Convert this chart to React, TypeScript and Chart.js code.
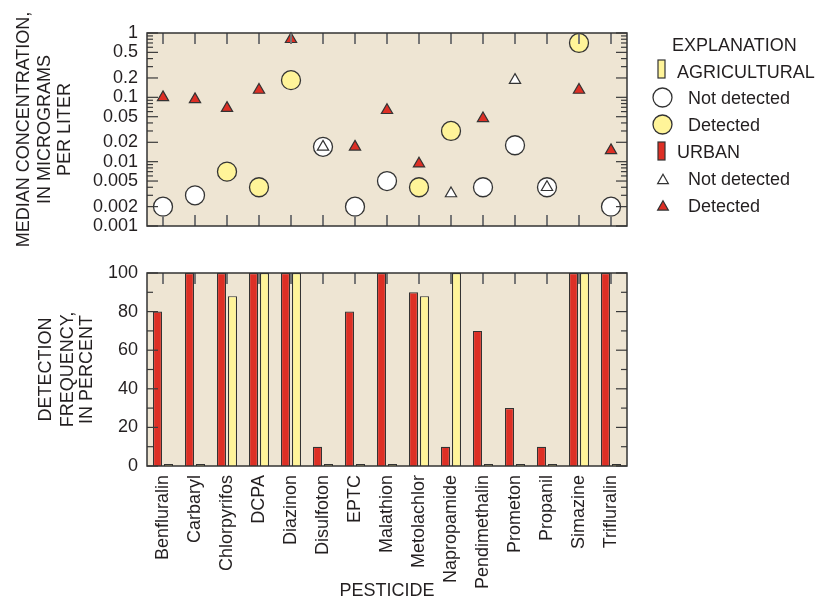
import React, { useEffect, useRef } from "react";
import { Chart, registerables } from "chart.js";

Chart.register(...registerables);

// ---------------- data ----------------
const pesticides = [
  "Benfluralin", "Carbaryl", "Chlorpyrifos", "DCPA", "Diazinon", "Disulfoton", "EPTC",
  "Malathion", "Metolachlor", "Napropamide", "Pendimethalin", "Prometon", "Propanil",
  "Simazine", "Trifluralin",
];

// median concentration, micrograms per liter
const agriConc = [0.002, 0.003, 0.007, 0.004, 0.185, 0.017, 0.002, 0.005, 0.004, 0.03, 0.004, 0.018, 0.004, 0.7, 0.002];
const agriDetected = [false, false, true, true, true, false, false, false, true, true, false, false, false, true, false];
const urbanConc = [0.1, 0.093, 0.068, 0.13, 0.8, 0.017, 0.017, 0.063, 0.0093, 0.0032, 0.047, 0.185, 0.004, 0.13, 0.015];
const urbanDetected = [true, true, true, true, true, false, true, true, true, false, true, false, false, true, true];

// detection frequency, percent
const urbanFreq = [80, 100, 100, 100, 100, 10, 80, 100, 90, 10, 70, 30, 10, 100, 100];
const agriFreq = [0, 0, 88, 100, 100, 0, 0, 0, 88, 100, 0, 0, 0, 100, 0];

// tick labels / tick marks
const concTickLabels = [1, 0.5, 0.2, 0.1, 0.05, 0.02, 0.01, 0.005, 0.002, 0.001];
const concMinorTicks = [
  0.003, 0.004, 0.006, 0.007, 0.008, 0.009,
  0.03, 0.04, 0.06, 0.07, 0.08, 0.09,
  0.3, 0.4, 0.6, 0.7, 0.8, 0.9,
];
const freqTickLabels = [0, 20, 40, 60, 80, 100];
const freqMinorTicks = [10, 30, 50, 70, 90];

// ---------------- styles ----------------
const FONT = "'Liberation Sans', Arial, Helvetica, sans-serif";
const TEXT = "#231f20";
const BG = "#EEE5D3";
const YELLOW = "#FFF499";
const RED = "#DD2F25";
const EDGE = "#333333";

Chart.defaults.font.family = FONT;
Chart.defaults.color = TEXT;

function framePlugin(major: number[], minor: number[], xTop: boolean, xBottom: boolean) {
  return {
    id: "frame",
    beforeDraw(chart: any) {
      const { ctx, chartArea: a } = chart;
      ctx.save();
      ctx.fillStyle = BG;
      ctx.fillRect(a.left, a.top, a.right - a.left, a.bottom - a.top);
      ctx.restore();
    },
    afterDatasetsDraw(chart: any) {
      const { ctx, chartArea: a, scales } = chart;
      const ys = scales.y;
      const xs = scales.x;
      const line = (x1: number, y1: number, x2: number, y2: number) => {
        ctx.beginPath();
        ctx.moveTo(x1, y1);
        ctx.lineTo(x2, y2);
        ctx.stroke();
      };
      ctx.save();
      ctx.strokeStyle = "#3a3a3a";
      ctx.lineWidth = 1.2;
      const ticks = [
        ...major.map((v) => ({ v, len: 11 })),
        ...minor.map((v) => ({ v, len: 6 })),
      ];
      for (const t of ticks) {
        const py = ys.getPixelForValue(t.v);
        line(a.left, py, a.left + t.len, py);
        line(a.right, py, a.right - t.len, py);
      }
      ctx.strokeStyle = "#767676";
      ctx.lineWidth = 2;
      for (let i = 0; i < pesticides.length; i++) {
        const px = xs.getPixelForValue(i);
        if (xTop) line(px, a.top, px, a.top + 11);
        if (xBottom) line(px, a.bottom, px, a.bottom - 11);
      }
      ctx.strokeStyle = EDGE;
      ctx.lineWidth = 1.5;
      ctx.strokeRect(a.left, a.top, a.right - a.left, a.bottom - a.top);
      ctx.restore();
    },
  };
}

function pick(values: number[], flags: boolean[], want: boolean) {
  return values.map((v, i) => (flags[i] === want ? v : null));
}

function fixY(s: any) {
  s.width = 147;
  s.paddingTop = 0;
  s.paddingBottom = 0;
}

function topConfig(): any {
  const circle = { pointStyle: "circle", pointRadius: 9.5, pointBorderWidth: 1.3, pointBorderColor: EDGE, showLine: false, clip: false };
  const tri = { pointStyle: "triangle", pointRadius: 6.5, pointBorderWidth: 1.2, pointBorderColor: EDGE, showLine: false, clip: false };
  return {
    type: "line",
    data: {
      labels: pesticides,
      datasets: [
        { ...tri, label: "Urban not detected", data: pick(urbanConc, urbanDetected, false), pointBackgroundColor: "#ffffff", order: 0 },
        { ...tri, label: "Urban detected", data: pick(urbanConc, urbanDetected, true), pointBackgroundColor: RED, order: 0 },
        { ...circle, label: "Agricultural not detected", data: pick(agriConc, agriDetected, false), pointBackgroundColor: "#ffffff", order: 1 },
        { ...circle, label: "Agricultural detected", data: pick(agriConc, agriDetected, true), pointBackgroundColor: YELLOW, order: 1 },
      ],
    },
    options: {
      animation: false,
      responsive: false,
      devicePixelRatio: 1,
      layout: { padding: { left: 0, right: 203, top: 33, bottom: 14 } },
      plugins: { legend: { display: false }, tooltip: { enabled: false } },
      scales: {
        x: { type: "category", offset: true, display: false },
        y: {
          type: "logarithmic",
          min: 0.001,
          max: 1,
          position: "left",
          grid: { display: false, drawTicks: false },
          border: { display: false },
          ticks: {
            autoSkip: false,
            padding: 9,
            font: { size: 18 },
            color: TEXT,
            callback: (v: any) => String(v),
          },
          afterBuildTicks: (s: any) => {
            s.ticks = concTickLabels.map((v) => ({ value: v }));
          },
          afterFit: fixY,
        },
      },
    },
    plugins: [framePlugin(concTickLabels, concMinorTicks, true, true)],
  };
}

function bottomConfig(): any {
  const bar = { borderColor: EDGE, borderWidth: 1.2, minBarLength: 2, categoryPercentage: 0.69, barPercentage: 0.82 };
  return {
    type: "bar",
    data: {
      labels: pesticides,
      datasets: [
        { ...bar, label: "Urban", data: urbanFreq, backgroundColor: RED },
        { ...bar, label: "Agricultural", data: agriFreq, backgroundColor: YELLOW },
      ],
    },
    options: {
      animation: false,
      responsive: false,
      devicePixelRatio: 1,
      layout: { padding: { left: 0, right: 203, top: 33, bottom: 0 } },
      plugins: { legend: { display: false }, tooltip: { enabled: false } },
      scales: {
        x: {
          type: "category",
          offset: true,
          position: "bottom",
          grid: { display: false, drawTicks: false },
          border: { display: false },
          ticks: {
            autoSkip: false,
            minRotation: 90,
            maxRotation: 90,
            padding: 9,
            font: { size: 18 },
            color: TEXT,
          },
          afterFit: (s: any) => {
            s.height = 134;
          },
        },
        y: {
          type: "linear",
          min: 0,
          max: 100,
          position: "left",
          grid: { display: false, drawTicks: false },
          border: { display: false },
          ticks: { stepSize: 20, autoSkip: false, padding: 9, font: { size: 18 }, color: TEXT },
          afterFit: fixY,
        },
      },
    },
    plugins: [framePlugin(freqTickLabels, freqMinorTicks, true, false)],
  };
}

function triPoints(cx: number, cy: number, r: number) {
  const h = r * 0.866;
  return `${cx},${cy - r} ${cx + h},${cy + r / 2} ${cx - h},${cy + r / 2}`;
}

export default function App() {
  const topRef = useRef<HTMLCanvasElement>(null);
  const botRef = useRef<HTMLCanvasElement>(null);

  useEffect(() => {
    const c1 = new Chart(topRef.current as HTMLCanvasElement, topConfig());
    const c2 = new Chart(botRef.current as HTMLCanvasElement, bottomConfig());
    return () => {
      c1.destroy();
      c2.destroy();
    };
  }, []);

  return (
    <div style={{ position: "absolute", left: 0, top: 0, width: 830, height: 600, background: "#fff", overflow: "hidden" }}>
      <canvas ref={topRef} width={830} height={240} style={{ position: "absolute", left: 0, top: 0, width: 830, height: 240 }} />
      <canvas ref={botRef} width={830} height={360} style={{ position: "absolute", left: 0, top: 240, width: 830, height: 360 }} />
      <svg
        width={830}
        height={600}
        style={{ position: "absolute", left: 0, top: 0, pointerEvents: "none" }}
        fontFamily={FONT}
        fontSize={18}
        fill={TEXT}
      >
        {/* legend */}
        <text x={672} y={51.4}>EXPLANATION</text>
        <rect x={658} y={60} width={7} height={18} fill={YELLOW} stroke={EDGE} strokeWidth={1.2} />
        <text x={677} y={78}>AGRICULTURAL</text>
        <circle cx={662.5} cy={97.5} r={9.5} fill="#ffffff" stroke={EDGE} strokeWidth={1.3} />
        <text x={688} y={104}>Not detected</text>
        <circle cx={662.5} cy={124.5} r={9.5} fill={YELLOW} stroke={EDGE} strokeWidth={1.3} />
        <text x={688} y={131.2}>Detected</text>
        <rect x={658} y={142} width={7} height={18} fill={RED} stroke={EDGE} strokeWidth={1.2} />
        <text x={677} y={158}>URBAN</text>
        <polygon points={triPoints(663, 180.5, 6.2)} fill="#ffffff" stroke={EDGE} strokeWidth={1.2} />
        <text x={688} y={184.5}>Not detected</text>
        <polygon points={triPoints(663, 207, 6.2)} fill={RED} stroke={EDGE} strokeWidth={1.2} />
        <text x={688} y={212}>Detected</text>

        {/* axis titles */}
        <g textAnchor="middle">
          <text transform="translate(28.9,129.5) rotate(-90)">MEDIAN CONCENTRATION,</text>
          <text transform="translate(50.4,129.5) rotate(-90)">IN MICROGRAMS</text>
          <text transform="translate(69.9,129.5) rotate(-90)">PER LITER</text>
          <text transform="translate(51.4,369.5) rotate(-90)">DETECTION</text>
          <text transform="translate(73.4,369.5) rotate(-90)">FREQUENCY,</text>
          <text transform="translate(92.4,369.5) rotate(-90)">IN PERCENT</text>
          <text x={387} y={595.5}>PESTICIDE</text>
        </g>
      </svg>
    </div>
  );
}
